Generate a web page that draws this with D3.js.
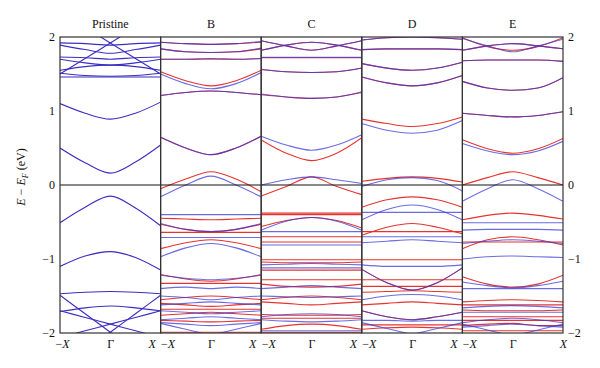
<!DOCTYPE html>
<html><head><meta charset="utf-8">
<script src="https://cdn.jsdelivr.net/npm/d3@7"></script>
<style>body{margin:0;background:#fff}svg{display:block}</style>
</head><body><svg id="c" width="600" height="368"></svg>
<script>
// ---- data ----
const panelNames = ["Pristine", "B", "C", "D", "E"];
const kPoints = [-1, -0.5, 0, 0.5, 1];           // -X ... Γ ... X
const kTickValues = [-1, 0, 1];
const kTickLabels = ["−X", "Γ", "X"];
const yTicks = [2, 1, 0, -1, -2];

// Pristine (spin degenerate)
const pristineBands = [
  [1.92,1.91,1.89,1.91,1.92],
  [1.89,1.83,1.78,1.83,1.89],
  [1.73,1.72,1.70,1.72,1.73],
  [1.70,1.65,1.62,1.65,1.70],
  [1.55,1.60,1.62,1.60,1.55],
  [1.51,1.48,1.47,1.48,1.51],
  [1.46,1.46,1.46,1.46,1.46],
  [1.50,1.71,1.92,2.13,2.34],
  [2.34,2.13,1.92,1.71,1.50],
  [1.10,0.97,0.89,0.97,1.12],
  [0.50,0.30,0.16,0.31,0.54],
  [-0.51,-0.30,-0.15,-0.31,-0.55],
  [-1.10,-0.96,-0.90,-0.98,-1.15],
  [-1.47,-1.45,-1.44,-1.45,-1.47],
  [-1.71,-1.66,-1.635,-1.66,-1.70],
  [-1.49,-1.74,-1.99,-2.24,-2.49],
  [-2.49,-2.24,-1.99,-1.74,-1.49],
  [-1.70,-1.79,-1.88,-1.97,-2.06],
  [-2.06,-1.97,-1.88,-1.79,-1.70]
];

const bUp = [
  [1.93,1.91,1.90,1.91,1.94],
  [1.84,1.80,1.79,1.80,1.85],
  [1.70,1.70,1.70,1.70,1.71],
  [1.50,1.37,1.30,1.37,1.52],
  [1.21,1.25,1.27,1.25,1.22],
  [0.645,0.50,0.41,0.50,0.66],
  [-0.16,0.0,0.12,0.0,-0.16],
  [-0.40,-0.40,-0.40,-0.40,-0.40],
  [-0.52,-0.60,-0.63,-0.60,-0.52],
  [-0.71,-0.71,-0.71,-0.71,-0.71],
  [-0.97,-0.85,-0.79,-0.85,-0.97],
  [-1.22,-1.26,-1.28,-1.26,-1.22],
  [-1.40,-1.38,-1.40,-1.38,-1.40],
  [-1.50,-1.52,-1.55,-1.52,-1.50],
  [-1.62,-1.60,-1.58,-1.60,-1.62],
  [-1.70,-1.72,-1.74,-1.72,-1.70],
  [-1.82,-1.80,-1.78,-1.80,-1.82],
  [-1.86,-1.88,-1.90,-1.88,-1.86],
  [-1.87,-1.95,-2.03,-2.11,-2.19],
  [-2.19,-2.11,-2.03,-1.95,-1.87]
];
const bDn = [
  [1.93,1.91,1.90,1.91,1.93],
  [1.84,1.80,1.79,1.80,1.84],
  [1.70,1.70,1.71,1.70,1.71],
  [1.53,1.41,1.34,1.41,1.55],
  [1.21,1.25,1.27,1.25,1.22],
  [0.645,0.50,0.41,0.50,0.66],
  [-0.05,0.08,0.18,0.08,-0.09],
  [-0.45,-0.46,-0.47,-0.46,-0.45],
  [-0.53,-0.60,-0.63,-0.60,-0.53],
  [-0.64,-0.64,-0.64,-0.64,-0.64],
  [-0.86,-0.78,-0.74,-0.78,-0.86],
  [-1.21,-1.27,-1.30,-1.27,-1.21],
  [-1.33,-1.33,-1.33,-1.33,-1.33],
  [-1.55,-1.52,-1.50,-1.52,-1.55],
  [-1.60,-1.62,-1.64,-1.62,-1.60],
  [-1.68,-1.68,-1.68,-1.68,-1.68],
  [-1.76,-1.74,-1.72,-1.74,-1.76],
  [-1.83,-1.84,-1.85,-1.84,-1.83],
  [-1.99,-1.99,-1.99,-1.99,-1.99]
];

const cUp = [
  [1.95,1.88,1.82,1.88,1.95],
  [1.82,1.89,1.93,1.89,1.82],
  [1.725,1.725,1.725,1.725,1.725],
  [1.56,1.53,1.52,1.53,1.58],
  [1.23,1.19,1.17,1.19,1.26],
  [0.66,0.54,0.47,0.54,0.68],
  [0.0,0.07,0.11,0.07,0.02],
  [-0.61,-0.49,-0.44,-0.49,-0.61],
  [-0.63,-0.63,-0.63,-0.63,-0.63],
  [-0.81,-0.81,-0.81,-0.81,-0.81],
  [-1.08,-1.07,-1.06,-1.07,-1.08],
  [-1.12,-1.12,-1.12,-1.12,-1.12],
  [-1.40,-1.38,-1.36,-1.38,-1.40],
  [-1.50,-1.51,-1.52,-1.51,-1.50],
  [-1.78,-1.75,-1.74,-1.75,-1.78],
  [-1.82,-1.84,-1.85,-1.84,-1.82],
  [-1.97,-1.97,-1.97,-1.97,-1.97]
];
const cDn = [
  [1.95,1.88,1.82,1.88,1.95],
  [1.82,1.89,1.93,1.89,1.82],
  [1.72,1.72,1.72,1.72,1.72],
  [1.56,1.53,1.52,1.53,1.58],
  [1.22,1.19,1.17,1.19,1.25],
  [0.61,0.43,0.33,0.43,0.64],
  [-0.15,-0.02,0.11,-0.02,-0.13],
  [-0.38,-0.38,-0.38,-0.38,-0.38],
  [-0.40,-0.40,-0.40,-0.40,-0.40],
  [-0.56,-0.48,-0.44,-0.48,-0.58],
  [-0.70,-0.70,-0.70,-0.70,-0.70],
  [-0.77,-0.77,-0.77,-0.77,-0.77],
  [-1.01,-1.01,-1.01,-1.01,-1.01],
  [-1.04,-1.05,-1.05,-1.05,-1.04],
  [-1.15,-1.15,-1.15,-1.15,-1.15],
  [-1.28,-1.28,-1.28,-1.28,-1.28],
  [-1.34,-1.37,-1.38,-1.37,-1.34],
  [-1.55,-1.52,-1.50,-1.52,-1.55],
  [-1.58,-1.60,-1.62,-1.60,-1.58],
  [-1.75,-1.76,-1.76,-1.76,-1.75],
  [-1.80,-1.80,-1.80,-1.80,-1.80],
  [-1.95,-1.90,-1.88,-1.90,-1.95],
  [-1.99,-1.99,-1.99,-1.99,-1.99]
];

const dUp = [
  [1.96,1.99,2.00,1.99,1.97],
  [1.83,1.84,1.84,1.84,1.83],
  [1.64,1.58,1.55,1.58,1.66],
  [1.46,1.38,1.34,1.38,1.48],
  [0.83,0.74,0.70,0.74,0.87],
  [-0.02,0.07,0.10,0.06,-0.08],
  [-0.47,-0.33,-0.27,-0.33,-0.47],
  [-0.37,-0.37,-0.37,-0.37,-0.37],
  [-0.70,-0.70,-0.70,-0.70,-0.70],
  [-0.78,-0.76,-0.74,-0.76,-0.78],
  [-1.08,-1.10,-1.10,-1.10,-1.08],
  [-1.14,-1.32,-1.42,-1.32,-1.12],
  [-1.55,-1.50,-1.48,-1.50,-1.55],
  [-1.70,-1.78,-1.82,-1.78,-1.72],
  [-1.83,-1.83,-1.84,-1.83,-1.83],
  [-1.86,-1.94,-2.02,-2.10,-2.18],
  [-2.18,-2.10,-2.02,-1.94,-1.86]
];
const dDn = [
  [1.96,1.99,2.00,1.99,1.97],
  [1.83,1.84,1.84,1.84,1.83],
  [1.64,1.58,1.55,1.58,1.66],
  [1.46,1.38,1.34,1.38,1.48],
  [0.89,0.83,0.79,0.83,0.92],
  [0.05,0.09,0.11,0.09,0.04],
  [-0.30,-0.20,-0.16,-0.20,-0.30],
  [-0.68,-0.57,-0.52,-0.57,-0.66],
  [-0.63,-0.63,-0.63,-0.63,-0.63],
  [-1.01,-1.01,-1.01,-1.01,-1.01],
  [-1.14,-1.32,-1.42,-1.32,-1.12],
  [-1.28,-1.28,-1.28,-1.28,-1.28],
  [-1.37,-1.37,-1.37,-1.37,-1.37],
  [-1.45,-1.44,-1.43,-1.44,-1.45],
  [-1.62,-1.60,-1.58,-1.60,-1.62],
  [-1.70,-1.78,-1.82,-1.78,-1.72],
  [-1.89,-1.89,-1.89,-1.89,-1.89],
  [-1.95,-1.93,-1.92,-1.93,-1.95]
];

const eUp = [
  [1.98,1.88,1.80,1.88,1.97],
  [1.82,1.88,1.91,1.88,1.84],
  [1.68,1.69,1.69,1.69,1.67],
  [1.40,1.31,1.28,1.31,1.45],
  [0.97,0.94,0.92,0.94,0.99],
  [0.56,0.46,0.41,0.46,0.59],
  [-0.22,-0.05,0.07,-0.05,-0.22],
  [-0.51,-0.51,-0.51,-0.51,-0.51],
  [-0.61,-0.60,-0.60,-0.60,-0.61],
  [-0.79,-0.76,-0.74,-0.76,-0.79],
  [-1.00,-0.97,-0.96,-0.97,-0.98],
  [-1.31,-1.36,-1.39,-1.36,-1.30],
  [-1.40,-1.40,-1.40,-1.40,-1.40],
  [-1.66,-1.64,-1.63,-1.64,-1.66],
  [-1.72,-1.72,-1.72,-1.72,-1.72],
  [-1.86,-1.82,-1.80,-1.82,-1.86],
  [-1.92,-1.90,-1.88,-1.90,-1.92],
  [-1.88,-1.96,-2.04,-2.12,-2.20],
  [-2.20,-2.12,-2.04,-1.96,-1.88]
];
const eDn = [
  [1.99,1.87,1.82,1.87,1.99],
  [1.82,1.88,1.91,1.88,1.84],
  [1.68,1.69,1.69,1.69,1.67],
  [1.40,1.31,1.28,1.31,1.45],
  [0.97,0.94,0.92,0.94,0.99],
  [0.61,0.49,0.43,0.49,0.63],
  [0.0,0.10,0.18,0.10,0.0],
  [-0.47,-0.41,-0.38,-0.41,-0.46],
  [-0.86,-0.74,-0.70,-0.74,-0.81],
  [-0.77,-0.77,-0.77,-0.77,-0.77],
  [-1.24,-1.34,-1.38,-1.34,-1.22],
  [-1.58,-1.56,-1.55,-1.56,-1.58],
  [-1.62,-1.62,-1.62,-1.62,-1.62],
  [-1.69,-1.70,-1.70,-1.70,-1.69],
  [-1.78,-1.78,-1.78,-1.78,-1.78],
  [-1.83,-1.83,-1.83,-1.83,-1.83],
  [-1.90,-1.88,-1.87,-1.90,-1.90],
  [-1.97,-1.97,-1.97,-1.97,-1.97]
];

const spinUpSets = [pristineBands, bUp, cUp, dUp, eUp];
const spinDnSets = [[], bDn, cDn, dDn, eDn];

// ---- drawing ----
const plotL = 60, plotR = 563, plotT = 37, plotB = 333;
const redC = "#e6332f", blueC = "#3a3ad8", pristineC = "#3b2fc2";
const FONT = "Liberation Serif";
const svg = d3.select("#c");
const y = d3.scaleLinear().domain([-2, 2]).range([plotB, plotT]);
const panelX = d3.scaleBand().domain(panelNames).range([plotL, plotR]).paddingInner(0).paddingOuter(0);
const pw = panelX.bandwidth();

function styleText(sel) {
  return sel.attr("font-family", FONT).attr("font-size", 12).attr("fill", "#111");
}

panelNames.forEach((name, i) => {
  const x0 = panelX(name), x1 = x0 + pw;
  const x = d3.scaleLinear().domain([-1, 1]).range([x0, x1]);
  const g = svg.append("g");
  const cid = "clip" + i;
  svg.append("clipPath").attr("id", cid).append("rect")
    .attr("x", x0).attr("y", plotT).attr("width", pw).attr("height", plotB - plotT);
  const line = d3.line().x((d, j) => x(kPoints[j])).y(d => y(d)).curve(d3.curveMonotoneX);
  const bands = g.append("g").attr("clip-path", `url(#${cid})`);
  bands.selectAll("path.dn").data(spinDnSets[i]).join("path").attr("class", "dn")
    .attr("d", line).attr("fill", "none").attr("stroke", redC).attr("stroke-width", 1.1);
  bands.selectAll("path.up").data(spinUpSets[i]).join("path").attr("class", "up")
    .attr("d", line).attr("fill", "none")
    .attr("stroke", i === 0 ? pristineC : blueC).attr("stroke-width", 1.1)
    .attr("stroke-opacity", i === 0 ? 1 : 0.75);
  // Fermi level
  g.append("line").attr("x1", x0).attr("x2", x1).attr("y1", y(0)).attr("y2", y(0))
    .attr("stroke", "#111").attr("stroke-width", 1);
  // frame
  g.append("rect").attr("x", x0).attr("y", plotT).attr("width", pw).attr("height", plotB - plotT)
    .attr("fill", "none").attr("stroke", "#333").attr("stroke-width", 1.2);
  // title
  styleText(svg.append("text").attr("x", x0 + pw / 2).attr("y", 28).attr("text-anchor", "middle")).text(name);
  // k labels
  const ax = d3.axisBottom(x).tickValues(kTickValues).tickSize(0).tickPadding(0)
    .tickFormat((d, j) => kTickLabels[j]);
  const axg = svg.append("g").attr("transform", `translate(0,${plotB})`).call(ax);
  axg.select(".domain").remove();
  styleText(axg.selectAll("text"))
    .attr("dy", null).attr("y", 15)
    .attr("dx", (d) => d === -1 ? (i === 0 ? 2 : 7) : d === 1 ? (i === 4 ? 0 : -9) : 0)
    .each(function (d, j) {
      const t = d3.select(this); const s = kTickLabels[j]; t.text(null);
      if (s.includes("X")) {
        if (s.startsWith("−")) t.append("tspan").text("−");
        t.append("tspan").attr("font-style", "italic").text("X");
      } else t.append("tspan").text(s);
    });
});

// y axes
const yl = svg.append("g").attr("transform", `translate(${plotL},0)`)
  .call(d3.axisLeft(y).tickValues(yTicks).tickSize(0).tickPadding(5).tickFormat(d3.format("d")));
const yr = svg.append("g").attr("transform", `translate(${plotR},0)`)
  .call(d3.axisRight(y).tickValues(yTicks).tickSize(0).tickPadding(5).tickFormat(d3.format("d")));
[yl, yr].forEach(a => {
  a.select(".domain").remove();
  styleText(a.selectAll("text"));
});

// y title
const yt = styleText(svg.append("text").attr("transform", `translate(25,${(plotT + plotB) / 2 - 8}) rotate(-90)`)
  .attr("text-anchor", "middle"));
yt.append("tspan").attr("font-style", "italic").text("E");
yt.append("tspan").text(" − ");
yt.append("tspan").attr("font-style", "italic").text("E");
yt.append("tspan").attr("font-style", "italic").attr("font-size", 8).attr("dy", 3).text("F");
yt.append("tspan").attr("dy", -3).text(" (eV)");
</script>
</body></html>
